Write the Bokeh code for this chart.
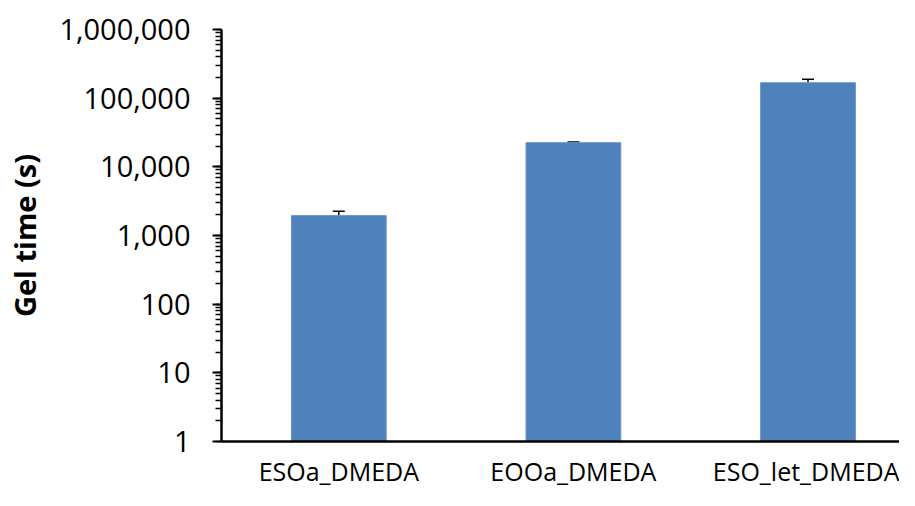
from bokeh.plotting import figure
from bokeh.models import ColumnDataSource, Whisker, TeeHead, LogTicker, NumeralTickFormatter, FixedTicker, Range1d
from bokeh.embed import file_html
from bokeh.resources import INLINE

categories = ["ESOa_DMEDA", "EOOa_DMEDA", "ESO_let_DMEDA"]
gel_time = [1950, 22500, 168000]
gel_err = [300, 500, 20000]

xs = [i + 0.5 for i in range(len(categories))]
src = ColumnDataSource(dict(
    x=xs, top=gel_time,
    upper=[v + e for v, e in zip(gel_time, gel_err)],
    lower=[v - e for v, e in zip(gel_time, gel_err)],
))

p = figure(width=899, height=490, y_axis_type="log", output_backend="svg",
           toolbar_location=None, x_range=Range1d(0, 2.89), y_range=Range1d(1, 1e6),
           min_border_left=221, min_border_right=0, min_border_top=29, min_border_bottom=44)
p.outline_line_color = None
p.xgrid.visible = False
p.ygrid.visible = False

p.vbar(x="x", top="top", bottom=1, width=0.404, source=src,
       fill_color="#4F81BD", line_color="#6A94C8", line_width=1)

w = Whisker(source=src, base="x", upper="upper", lower="lower",
            line_color="black", line_width=1.5,
            upper_head=TeeHead(size=12, line_color="black", line_width=1.5),
            lower_head=TeeHead(size=12, line_color="black", line_width=1.5))
p.add_layout(w)

ya = p.yaxis[0]
ya.ticker = LogTicker(num_minor_ticks=10)
ya.formatter = NumeralTickFormatter(format="0,0")
ya.axis_line_width = 2.5
ya.axis_line_color = "black"
ya.major_tick_in = 0
ya.major_tick_out = 9
ya.minor_tick_in = 0
ya.minor_tick_out = 6
ya.major_tick_line_width = 2
ya.minor_tick_line_width = 1.5
ya.major_label_text_font = "Open Sans"
ya.major_label_text_font_size = "29px"
ya.major_label_text_color = "black"
ya.major_label_standoff = 22
ya.axis_label = "Gel time (s)"
ya.axis_label_text_font = "Open Sans"
ya.axis_label_text_font_style = "bold"
ya.axis_label_text_font_size = "29px"
ya.axis_label_text_color = "black"
ya.axis_label_standoff = 12

xa = p.xaxis[0]
xa.ticker = FixedTicker(ticks=xs)
xa.major_label_overrides = {x: c for x, c in zip(xs, categories)}
xa.axis_line_width = 2.5
xa.axis_line_color = "black"
xa.major_tick_in = 0
xa.major_tick_out = 0
xa.minor_tick_line_color = None
xa.major_label_text_font = "Open Sans"
xa.major_label_text_font_size = "25px"
xa.major_label_text_color = "black"
xa.major_label_standoff = 12

open("out.html", "w").write(file_html(p, INLINE))
